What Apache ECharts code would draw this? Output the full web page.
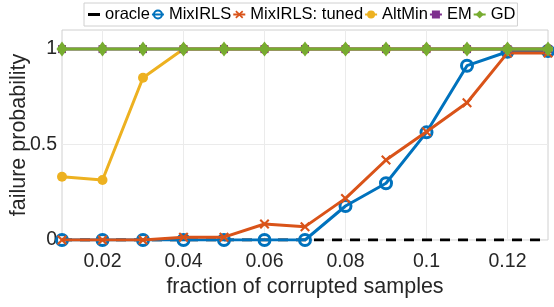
<!DOCTYPE html>
<html><head><meta charset="utf-8">
<script src="https://cdn.jsdelivr.net/npm/echarts@6/dist/echarts.min.js"></script>
<style>html,body{margin:0;padding:0;background:#fff}#c{width:554px;height:307px}</style>
</head><body><div id="c"></div>
<script>
var fractions = [0.01,0.02,0.03,0.04,0.05,0.06,0.07,0.08,0.09,0.10,0.11,0.12,0.13];
var oracle    = [0,0,0,0,0,0,0,0,0,0,0,0,0];
var mixIRLS   = [0,0,0,0,0,0,0,0.178,0.297,0.564,0.913,0.986,0.99];
var mixTuned  = [0,0,0,0.014,0.015,0.084,0.07,0.218,0.419,0.567,0.719,0.98,0.98];
var altMin    = [0.331,0.314,0.85,1,1,1,1,1,1,1,1,1,1];
var em        = [1,1,1,1,1,1,1,1,1,1,1,1,1];
var gd        = [1,1,1,1,1,1,1,1,1,1,1,1,1];
var xTicks = [0.02,0.04,0.06,0.08,0.10,0.12];
var yTicks = [0,0.5,1];

function pairs(v){return fractions.map(function(x,i){return [x,v[i]];});}
var FONT = '"Liberation Sans", Arial, sans-serif';
var xPath = 'path://M0,1.5L1.5,0L5,3.5L8.5,0L10,1.5L6.5,5L10,8.5L8.5,10L5,6.5L1.5,10L0,8.5L3.5,5Z';
var dashIcon = 'path://M0,0L0.01,0L0,0.01Z M0,3.6L12,3.6L12,6.4L0,6.4Z M11.99,10L12,10L12,9.99Z';

var chart = echarts.init(document.getElementById('c'), null, {renderer:'canvas'});
chart.setOption({
  animation:false,
  grid:{left:62,right:6,top:30,bottom:67,show:true,borderColor:'#d0d0d0',borderWidth:1,
        outerBoundsMode:'none',containLabel:false},
  legend:{
    top:3,left:84,
    width:520,
    padding:[3,2,3,4],
    borderColor:'#d0d0d0',borderWidth:1,backgroundColor:'#fff',
    itemGap:1,itemWidth:12,itemHeight:10,
    textStyle:{fontFamily:FONT,fontSize:16.5,color:'#000'},
    data:[{name:'oracle',icon:dashIcon},'MixIRLS','MixIRLS: tuned','AltMin','EM','GD']
  },
  xAxis:{
    type:'value',min:0.01,max:0.13,
    name:'fraction of corrupted samples',nameLocation:'middle',nameGap:36,nameMoveOverlap:false,
    nameTextStyle:{fontFamily:FONT,fontSize:21.5,color:'#262626'},
    axisLine:{show:false},
    axisTick:{show:false,customValues:xTicks},
    axisLabel:{customValues:xTicks,fontFamily:FONT,fontSize:19.5,color:'#262626',margin:12,
      formatter:function(v){return String(+v.toFixed(2));}},
    splitLine:{show:true,lineStyle:{color:'#ebebeb',width:1}}
  },
  yAxis:{
    type:'value',min:0,max:1.1,
    name:'failure probability',nameLocation:'middle',nameGap:32,nameMoveOverlap:false,
    nameTextStyle:{fontFamily:FONT,fontSize:21.5,color:'#262626'},
    axisLine:{show:false},
    axisTick:{show:false,customValues:yTicks},
    axisLabel:{customValues:yTicks,fontFamily:FONT,fontSize:19.5,color:'#262626',margin:5},
    splitLine:{show:true,lineStyle:{color:'#ebebeb',width:1}}
  },
  series:[
    {name:'oracle',type:'line',data:pairs(oracle),symbol:'none',z:2,
      lineStyle:{color:'#000',width:3,type:[10,8]},itemStyle:{color:'#000'}},
    {name:'MixIRLS',type:'line',data:pairs(mixIRLS),symbol:'circle',symbolSize:11,z:3,
      lineStyle:{color:'#0072BD',width:3},
      itemStyle:{color:'rgba(255,255,255,0)',borderColor:'#0072BD',borderWidth:3}},
    {name:'MixIRLS: tuned',type:'line',data:pairs(mixTuned),symbol:xPath,symbolSize:10,z:4,
      lineStyle:{color:'#D95319',width:3},itemStyle:{color:'#D95319'}},
    {name:'AltMin',type:'line',data:pairs(altMin),symbol:'circle',symbolSize:10,z:5,
      lineStyle:{color:'#EDB120',width:3},itemStyle:{color:'#EDB120'}},
    {name:'EM',type:'line',data:pairs(em),symbol:'rect',symbolSize:8,z:6,
      lineStyle:{color:'#7E2F8E',width:3},itemStyle:{color:'#7E2F8E'}},
    {name:'GD',type:'line',data:pairs(gd),symbol:'diamond',symbolSize:[11,15],z:7,
      lineStyle:{color:'#77AC30',width:3},itemStyle:{color:'#77AC30'}}
  ]
});
</script></body></html>
